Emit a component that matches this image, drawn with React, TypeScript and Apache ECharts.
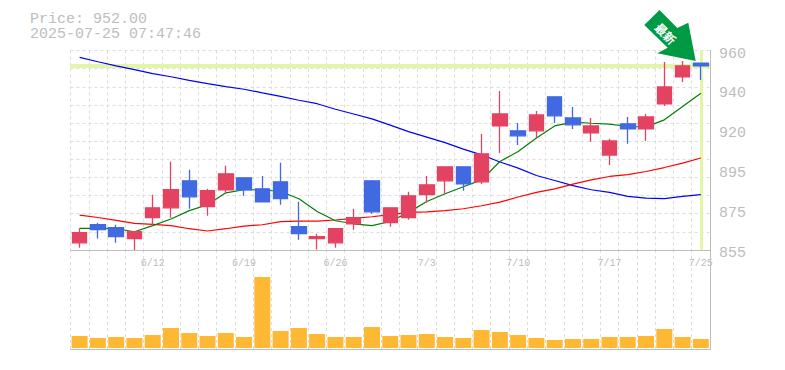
import React, { useEffect, useRef } from "react";
import * as echarts from "echarts";

const dates = ["6/6","6/9","6/10","6/11","6/12","6/13","6/16","6/17","6/18","6/19","6/20","6/23","6/24","6/25","6/26","6/27","6/30","7/1","7/2","7/3","7/4","7/7","7/8","7/9","7/10","7/11","7/14","7/15","7/16","7/17","7/18","7/22","7/23","7/24","7/25"];
const labelledDates = ["6/12","6/19","6/26","7/3","7/10","7/17","7/25"];
const priceTickLabels = ["855","875","895","920","940","960"];

// [open, close, low, high]
const candles = [
  [858.8,864.1,856.2,866.4],[868.3,865.7,861.0,869.4],[866.7,862.0,858.8,868.3],[861.0,864.6,855.0,864.6],
  [872.0,877.2,867.8,884.1],[877.2,886.7,872.0,901.4],[891.4,883.0,876.7,897.2],[877.8,886.2,873.0,887.2],
  [886.7,895.1,885.1,899.3],[893.0,886.7,883.5,893.0],[887.2,880.4,880.4,894.0],[890.9,882.0,878.8,900.9],
  [867.3,863.6,860.4,880.4],[861.0,862.0,855.2,863.6],[858.8,866.2,856.2,866.2],[868.8,872.0,865.7,876.7],
  [891.4,875.1,874.1,891.4],[869.4,877.2,867.3,877.2],[872.0,883.5,870.9,885.6],[884.1,889.3,879.9,894.0],
  [891.4,898.8,884.6,898.8],[898.8,889.8,886.2,898.8],[890.9,905.6,889.8,916.1],[920.3,926.6,906.1,938.7],
  [917.7,915.1,910.3,921.9],[917.7,926.1,913.5,928.2],[935.6,925.6,921.9,935.6],[924.5,920.9,918.7,930.3],
  [916.6,920.3,911.9,924.5],[905.0,912.4,899.8,913.5],[921.4,918.7,910.9,925.0],[918.7,925.0,912.4,926.6],
  [931.9,940.8,930.8,954.0],[946.1,951.9,943.4,954.5],[953.4,951.9,944.5,953.4],
];
const maShort = [866.4,866.4,866.2,864.6,867.8,871.3,875.7,878.8,885.1,886.7,886.7,885.8,882.0,875.3,870.4,868.8,867.8,870.0,874.8,880.5,884.6,888.3,891.9,901.6,906.8,914.0,920.3,922.3,921.7,921.2,920.0,919.8,923.5,930.5,937.5];
const maMid = [873.4,872.1,870.6,869.0,868.5,867.8,866.2,865.0,866.2,867.6,868.3,869.9,870.2,870.2,870.8,871.6,872.5,873.6,874.8,875.1,875.7,876.7,878.3,880.2,882.9,885.3,887.2,889.7,891.9,893.7,894.7,896.3,898.4,900.7,903.4];
const maLong = [956.4,954.1,951.9,949.9,947.8,946.2,944.3,942.6,941.0,939.6,937.7,935.9,933.8,932.0,929.1,926.6,924.0,920.7,917.3,914.4,911.5,908.1,905.1,901.3,898.1,894.2,891.6,888.9,886.7,885.3,883.2,882.3,882.0,883.2,884.1];
const volumes = [12,10,11,10,13,20,15,12,15,11,71,17,20,14,11,11,21,12,13,14,11,10,18,16,13,10,8,9,9,11,11,12,19,11,9];

const lastPrice = 952;
const lastDate = "7/25";

const GRAY = "#bdbdbd";
const GRID = "#dcdcdc";
const HILITE = "#e3f5a6";
const MONO = "'Liberation Mono', monospace";

export default function App() {
  const ref = useRef<HTMLDivElement>(null);
  useEffect(() => {
    const chart = echarts.init(ref.current!, undefined, { renderer: "svg" });
    const splitLine = { show: true, interval: 0, lineStyle: { color: GRID, type: [3, 3], width: 1 } };
    const lineSeries = (data: number[], color: string) => ({
      type: "line", data, xAxisIndex: 0, yAxisIndex: 0, showSymbol: false, symbol: "none", silent: true, z: 2,
      lineStyle: { color, width: 1.2 },
    });
    chart.setOption({
      animation: false,
      backgroundColor: "#fff",
      title: {
        text: `Price: ${lastPrice.toFixed(2)}\n2025-07-25 07:47:46`,
        left: 30, top: 12, padding: 0,
        textStyle: { fontFamily: MONO, fontSize: 15, lineHeight: 15, fontWeight: "normal", color: GRAY },
      },
      grid: [
        { left: 70.5, right: 75, top: 50.5, height: 199.5 },
        { left: 70.5, right: 75, top: 250, height: 99.5 },
        { left: 70.5, right: 75, top: 54, height: 199.5 },
      ],
      xAxis: [
        {
          type: "category", gridIndex: 0, data: dates, boundaryGap: true,
          axisLine: { show: true, lineStyle: { color: GRAY, width: 1 } }, axisTick: { show: false }, splitLine,
          axisLabel: {
            interval: (_: number, v: string) => labelledDates.includes(v),
            margin: 8, fontFamily: MONO, fontSize: 10, color: GRAY, hideOverlap: false,
          },
        },
        {
          type: "category", gridIndex: 1, data: dates, boundaryGap: true,
          axisLine: { show: true, onZero: false, lineStyle: { color: GRAY, width: 1 } },
          axisTick: { show: false }, axisLabel: { show: false }, splitLine,
        },
        { type: "category", gridIndex: 2, data: dates, show: false },
      ],
      yAxis: [
        { type: "value", gridIndex: 0, min: 855, max: 960, show: false, splitLine: { show: false } },
        {
          type: "value", gridIndex: 0, min: 0, max: 5, interval: 1, position: "right",
          axisLine: { show: true, lineStyle: { color: GRAY, width: 1 } }, axisTick: { show: false }, splitLine: { show: false },
          axisLabel: { show: false },
        },
        {
          type: "value", gridIndex: 0, min: 0, max: 11, interval: 1, position: "left",
          axisLine: { show: false }, axisTick: { show: false }, axisLabel: { show: false },
          splitLine: { show: true, lineStyle: { color: GRID, type: [3, 3], width: 1 } },
        },
        {
          type: "value", gridIndex: 1, min: -1.5, max: 98, position: "right",
          axisLine: { show: true, lineStyle: { color: GRAY, width: 1 } }, axisTick: { show: false },
          axisLabel: { show: false }, splitLine: { show: false },
        },
        {
          type: "value", gridIndex: 2, min: 0, max: 5, interval: 1, position: "right",
          axisLine: { show: false }, axisTick: { show: false }, splitLine: { show: false },
          axisLabel: {
            margin: 9, fontFamily: MONO, fontSize: 15, color: GRAY,
            formatter: (v: number) => priceTickLabels[v] ?? "",
          },
        },
      ],
      series: [
        lineSeries(maLong, "#0000ff"),
        lineSeries(maMid, "#ff0000"),
        lineSeries(maShort, "#008000"),
        {
          type: "candlestick", data: candles, xAxisIndex: 0, yAxisIndex: 0, barWidth: 15, z: 3,
          itemStyle: { color: "#e34360", color0: "#4169e1", borderColor: "#e34360", borderColor0: "#4169e1", borderWidth: 1.3 },
          markLine: {
            silent: true, symbol: "none", z: 1, label: { show: false }, animation: false,
            data: [
              { yAxis: lastPrice, lineStyle: { color: HILITE, width: 4, type: "solid" } },
              { xAxis: lastDate, lineStyle: { color: HILITE, width: 3, type: "solid" } },
            ],
          },
        },
        {
          type: "bar", data: volumes, xAxisIndex: 1, yAxisIndex: 3, barWidth: 16, z: 3,
          itemStyle: { color: "#ffb834" },
        },
      ],
      graphic: [
        {
          type: "polygon", z: 20,
          shape: { points: [[659.5,10],[677.3,28],[688.3,22.7],[695.7,61],[657.3,53.3],[667.7,47.7],[644.3,25]] },
          style: { fill: "#009944" },
        },
        {
          type: "text", z: 21, x: 666, y: 33, rotation: -Math.PI / 4,
          style: {
            text: "最新", fill: "#fff", font: "bold 12px 'Noto Sans CJK JP'", align: "center", verticalAlign: "middle",
          },
        },
      ],
    });
    return () => chart.dispose();
  }, []);
  return <div ref={ref} style={{ position: "fixed", left: 0, top: 0, width: 785, height: 370 }} />;
}
